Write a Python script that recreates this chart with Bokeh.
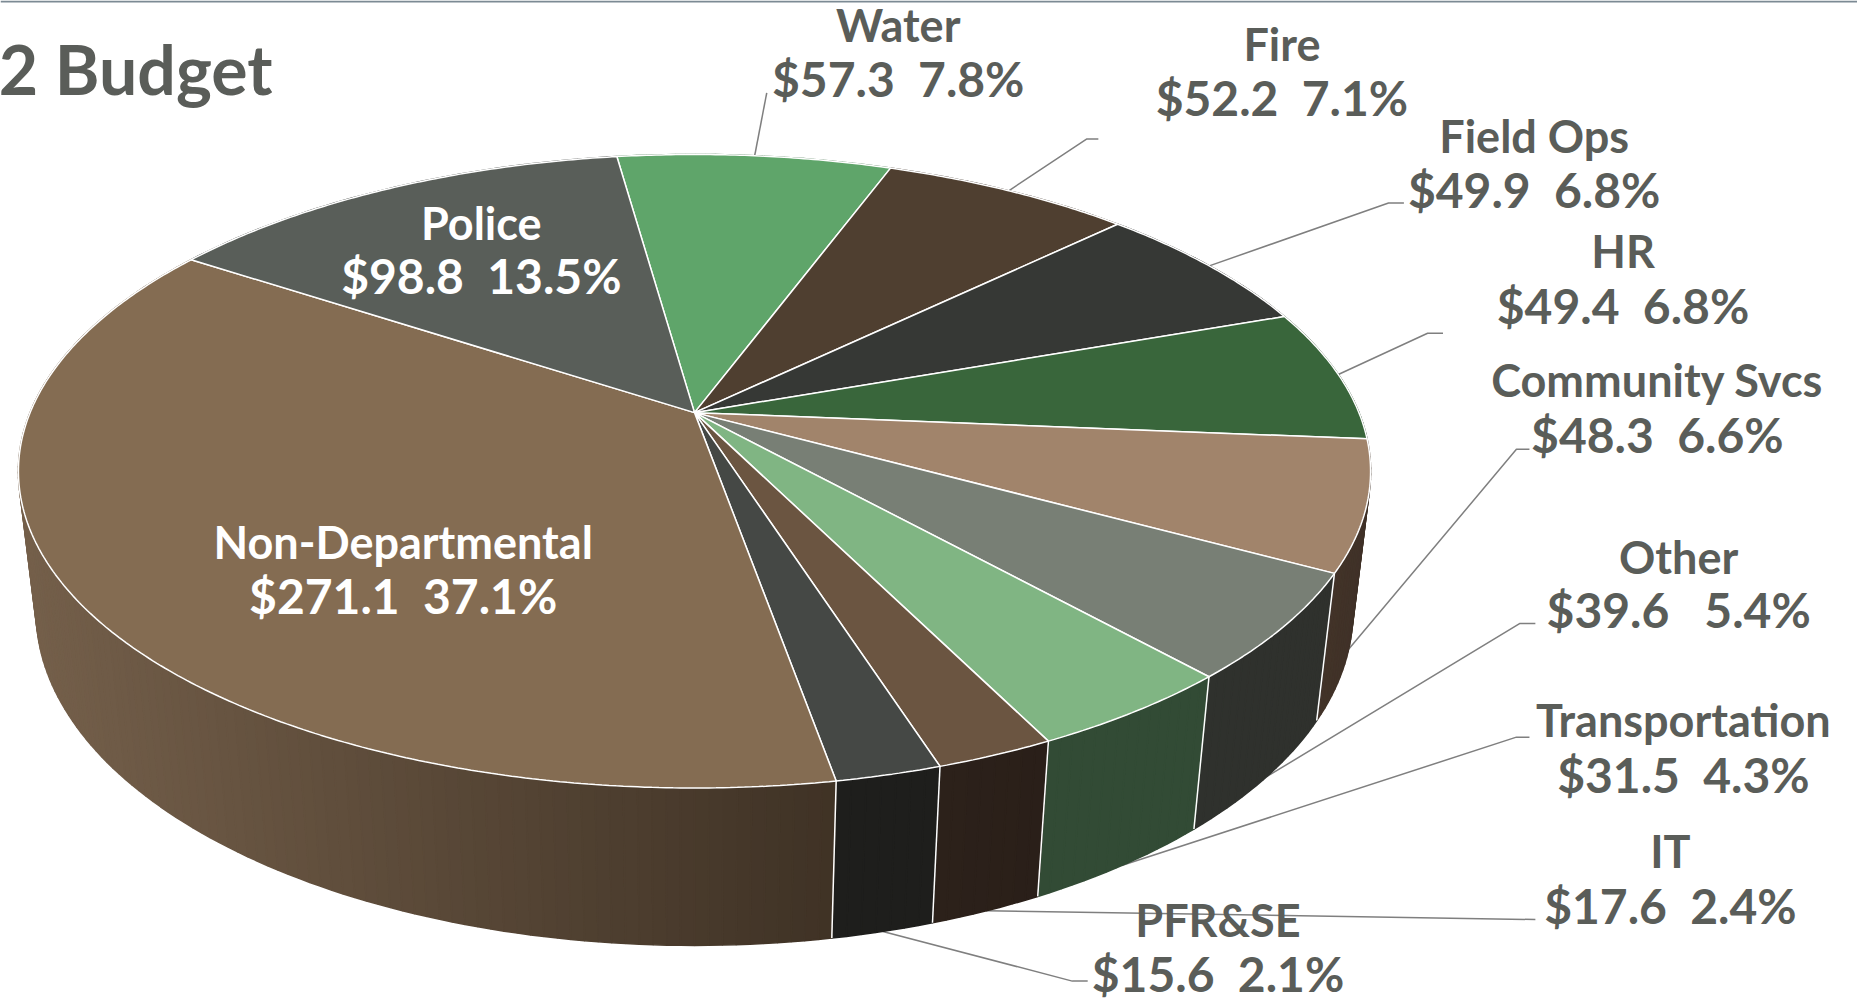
import math
from bokeh.plotting import figure
from bokeh.models import Range1d
from bokeh.core.properties import value as pv
from bokeh.embed import file_html
from bokeh.resources import INLINE

NB = "\u00a0"
names = ["Water", "Fire", "Field Ops", "HR", "Community Svcs", "Other", "Transportation", "IT", "PFR&SE", "Non-Departmental", "Police"]
values = [57.3, 52.2, 49.9, 49.4, 48.3, 39.6, 31.5, 17.6, 15.6, 271.1, 98.8]
value_labels = ["$57.3  7.8%", "$52.2  7.1%", "$49.9  6.8%", "$49.4  6.8%", "$48.3  6.6%", "$39.6   5.4%", "$31.5  4.3%", "$17.6  2.4%", "$15.6  2.1%", "$271.1  37.1%", "$98.8  13.5%"]
top_colors = ["#5fa56a", "#4f3f30", "#363835", "#39663b", "#a1846b", "#787f75", "#80b583", "#6b5541", "#454845", "#846c52", "#595e59"]
wall_left = ["#3f6e47", "#35291f", "#242523", "#264428", "#433429", "#2f312d", "#324b35", "#2c211a", "#1e1e1c", "#75604b", "#3b3e3b"]
wall_right = ["#3f6e47", "#35291f", "#242523", "#264428", "#3e3027", "#2f312d", "#324b35", "#2a1f19", "#1e1e1c", "#3f3225", "#3b3e3b"]

S = 1857 / 1568
FONT = "Lato"
TEXT_COLOR = "#5a5d59"
LEADER = "#7f7f7f"

# layout in reference thumbnail units
label_cx = [758, 1082, 1295, 1370, 1399, 1417, 1421, 1410, 1028, 340, 406]
name_mid = [20.5, 36.5, 114.5, 211.5, 320.5, 469.5, 607.5, 718.5, 776.5, 457.5, 187.5]
value_mid = [65.5, 81.5, 159.5, 257.5, 366.5, 514.5, 653.5, 764.5, 821.5, 502.5, 232.5]
text_colors = [TEXT_COLOR] * 9 + ["white", "white"]
elbow = [[(647, 78)], [(917, 117), (927, 117)], [(1172, 171), (1185, 171)], [(1205, 281), (1218, 281)],
         [(1280, 379), (1291, 379)], [(1283, 526), (1296, 526)], [(1280, 622), (1291, 622)], [(1296, 776)],
         [(905, 828), (918, 828)], None, None]
leader_w = [0, 0, 0, 0, 1, 1, 1, 1, 1, 0, 0]

CX, CY, A, B, K, C, M = 586 * S, 348 * S, 561 * S, 258.3 * S, 0.185, 120 * S, 0.026
START = -7.95

def proj(deg, w):
    t = math.radians(deg)
    u, v = math.sin(t), math.cos(t)
    d = 1 + K * v + M * w
    return CX + A * u / d, CY - (B * v - C * w) / d

def hex2rgb(h):
    return tuple(int(h[i:i + 2], 16) for i in (1, 3, 5))

def mix(a, b, t):
    ra, rb = hex2rgb(a), hex2rgb(b)
    return "#%02x%02x%02x" % tuple(round(x + (y - x) * t) for x, y in zip(ra, rb))

total = sum(values)
edges = [START]
for val in values:
    edges.append(edges[-1] + val / total * 360)

p = figure(width=1857, height=1002, output_backend="svg", toolbar_location=None,
           x_range=Range1d(0, 1857), y_range=Range1d(1002, 0), min_border=0,
           x_axis_type=None, y_axis_type=None, outline_line_color=None,
           background_fill_color="white", border_fill_color="white",
           styles={"position": "absolute", "left": "0px", "top": "0px"})
p.grid.visible = False

# top rule
p.line([0, 1857], [1, 1], line_color="#7c8a94", line_width=2)

# leaders under the pie
for i, e in enumerate(elbow):
    if not e:
        continue
    sx, sy = proj((edges[i] + edges[i + 1]) / 2, leader_w[i])
    xs = [sx] + [q[0] * S for q in e]
    ys = [sy] + [q[1] * S for q in e]
    p.line(xs, ys, line_color=LEADER, line_width=1.5)

# walls, back to front
quads = []
for i in range(len(values)):
    n = max(2, int((edges[i + 1] - edges[i]) / 1.0))
    for j in range(n):
        a0 = edges[i] + (edges[i + 1] - edges[i]) * j / n
        a1 = edges[i] + (edges[i + 1] - edges[i]) * (j + 1) / n
        x0, y0 = proj(a0, 0); x1, y1 = proj(a1, 0)
        x2, y2 = proj(a1, 1); x3, y3 = proj(a0, 1)
        quads.append((math.cos(math.radians((a0 + a1) / 2)), i, [x0, x1, x2, x3], [y0, y1, y2, y3]))
quads.sort(key=lambda q: -q[0])
xr = {i: [] for i in range(len(values))}
for q in quads:
    if q[0] < 0.1:
        xr[q[1]].extend(q[2])
wx, wy, wc = [], [], []
for cosv, i, xs, ys in quads:
    lo, hi = (min(xr[i]), max(xr[i])) if xr[i] else (0, 1)
    t = min(1, max(0, (sum(xs) / 4 - lo) / max(1, hi - lo)))
    wx.append(xs); wy.append(ys); wc.append(mix(wall_left[i], wall_right[i], t))
p.patches(wx, wy, fill_color=wc, line_color=wc, line_width=1.6)

# wall separators
for a in edges:
    if math.cos(math.radians(a)) < -0.2:
        x0, y0 = proj(a, 0); x1, y1 = proj(a, 1)
        p.line([x0, x1], [y0, y1], line_color="white", line_width=1.5)

# top wedges
tx, ty = [], []
for i in range(len(values)):
    n = max(2, int((edges[i + 1] - edges[i]) / 0.5))
    ptsx, ptsy = [CX], [CY]
    for j in range(n + 1):
        x, y = proj(edges[i] + (edges[i + 1] - edges[i]) * j / n, 0)
        ptsx.append(x); ptsy.append(y)
    tx.append(ptsx); ty.append(ptsy)
p.patches(tx, ty, fill_color=top_colors, line_color="white", line_width=1.5)

# labels
fs_name = "%dpx" % 45
fs_val = "%dpx" % 48
for i in range(len(values)):
    p.text([label_cx[i] * S], [name_mid[i] * S], text=[names[i]], text_font=pv(FONT), text_font_style="bold",
           text_font_size=fs_name, text_color=text_colors[i], text_align="center", text_baseline="middle")
    p.text([label_cx[i] * S], [value_mid[i] * S], text=[value_labels[i].replace(" ", NB)], text_font=pv(FONT), text_font_style="bold",
           text_font_size=fs_val, text_color=text_colors[i], text_align="center", text_baseline="middle")

p.text([272], [68], text=["2 Budget"], text_font=pv(FONT), text_font_style="bold", text_font_size="68px",
       text_color=TEXT_COLOR, text_align="right", text_baseline="middle")

open("out.html", "w").write(file_html(p, INLINE))
